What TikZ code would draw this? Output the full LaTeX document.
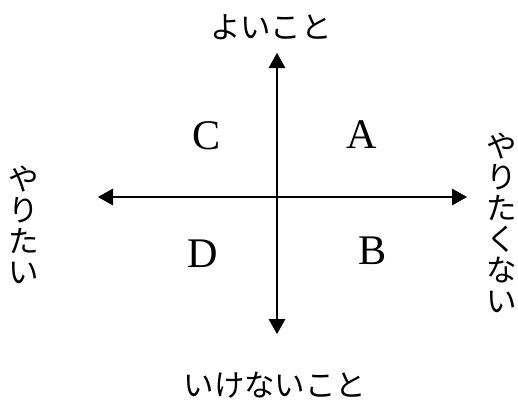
\documentclass[tikz,border=0pt]{standalone}
\usepackage{fontspec}
\setmainfont{Liberation Serif}
\newfontfamily\jpfont{Noto Sans CJK JP}
\usetikzlibrary{arrows.meta}
\tikzset{
    axis/.style={
        {Triangle[length=4.5mm,width=5mm]}-{Triangle[length=4.5mm,width=5mm]},
        line width=1pt,draw=black
    },
    quad/.style={
        font=\fontsize{36}{40}\selectfont,inner sep=0pt
    },
    jptext/.style={
        font=\jpfont\fontsize{26}{26.5}\selectfont,inner sep=0pt,align=center
    }
}

\begin{document}
\begin{tikzpicture}[x=0.03cm,y=-0.03cm]

\useasboundingbox (0,0) rectangle (518,416);

\coordinate (top) at (277,53);
\coordinate (bottom) at (277,334);
\coordinate (left) at (98,197);
\coordinate (right) at (467,197);

\draw[axis] (bottom) -- (top);
\draw[axis] (left) -- (right);

\node[quad] (c) at (207,136) {C};
\node[quad] (a) at (362,135) {A};
\node[quad] (d) at (203,254) {D};
\node[quad] (b) at (373,251) {B};

\node[jptext] (good) at (271,27) {よいこと};
\node[jptext] (bad) at (275,385) {いけないこと};
\node[jptext] (want) at (24,225) {や\\り\\た\\い};
\node[jptext] (notwant) at (502,223) {や\\り\\た\\く\\な\\い};

\end{tikzpicture}
\end{document}
